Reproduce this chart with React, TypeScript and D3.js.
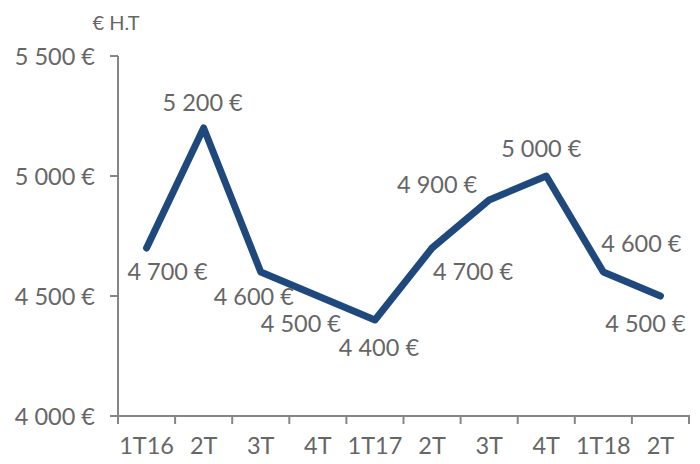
import * as d3 from "d3";
import React from "react";

const quarters = ["1T16", "2T", "3T", "4T", "1T17", "2T", "3T", "4T", "1T18", "2T"];
const sales = [4700, 5200, 4600, 4500, 4400, 4700, 4900, 5000, 4600, 4500];
const yTicks = [4000, 4500, 5000, 5500];
const unitLabel = "€ H.T";

// where each value label sits relative to its point (dx, dy)
const labelOffsets: [number, number][] = [
  [21, 23], [-1, -26], [-7, 24], [-17, 27], [4, 27],
  [41, 23], [-52, -16], [-5, -28], [38, -29], [-15, 27],
];

const width = 700;
const height = 464;
const font = "Lato, 'Open Sans', sans-serif";
const textColor = "#666666";
const axisColor = "#868686";
const fs = 23.5;

const fmt = (v: number) => d3.format(",")(v).replace(/,/g, " ") + " €";

const App = () => {
  const x = d3.scaleBand<number>().domain(d3.range(quarters.length)).range([118, 689]);
  const y = d3.scaleLinear().domain([4000, 5500]).range([416, 56]);
  const cx = (i: number) => (x(i) as number) + x.bandwidth() / 2;

  const line = d3
    .line<number>()
    .x((_, i) => cx(i))
    .y((d) => y(d));

  const edges = d3.range(quarters.length + 1).map((i) => 118 + i * x.bandwidth());

  return (
    <svg
      width={width}
      height={height}
      style={{ position: "absolute", left: 0, top: 0, fontFamily: font }}
    >
      <rect width={width} height={height} fill="#fff" />
      {/* y axis */}
      <line x1={118} x2={118} y1={y(5500)} y2={y(4000)} stroke={axisColor} strokeWidth={2} />
      {yTicks.map((t) => (
        <g key={t}>
          <line x1={110} x2={118} y1={y(t)} y2={y(t)} stroke={axisColor} strokeWidth={2} />
          <text
            x={95}
            y={y(t)}
            textAnchor="end"
            dominantBaseline="central"
            fontSize={fs}
            fill={textColor}
          >
            {fmt(t)}
          </text>
        </g>
      ))}
      <text x={116} y={22} textAnchor="middle" dominantBaseline="central" fontSize={20} fill={textColor}>
        {unitLabel}
      </text>
      {/* x axis */}
      <line x1={117} x2={690} y1={y(4000)} y2={y(4000)} stroke={axisColor} strokeWidth={2} />
      {edges.map((e, i) => (
        <line key={i} x1={e} x2={e} y1={y(4000)} y2={y(4000) + 8} stroke={axisColor} strokeWidth={2} />
      ))}
      {quarters.map((q, i) => (
        <text
          key={i}
          x={cx(i)}
          y={445}
          textAnchor="middle"
          dominantBaseline="central"
          fontSize={fs}
          fill={textColor}
        >
          {q}
        </text>
      ))}
      {/* series */}
      <path
        d={line(sales) ?? ""}
        fill="none"
        stroke="#1f497d"
        strokeWidth={7}
        strokeLinejoin="round"
        strokeLinecap="round"
      />
      {sales.map((v, i) => (
        <text
          key={i}
          x={cx(i) + labelOffsets[i][0]}
          y={y(v) + labelOffsets[i][1]}
          textAnchor="middle"
          dominantBaseline="central"
          fontSize={fs}
          fill={textColor}
        >
          {fmt(v)}
        </text>
      ))}
    </svg>
  );
};

export default App;
